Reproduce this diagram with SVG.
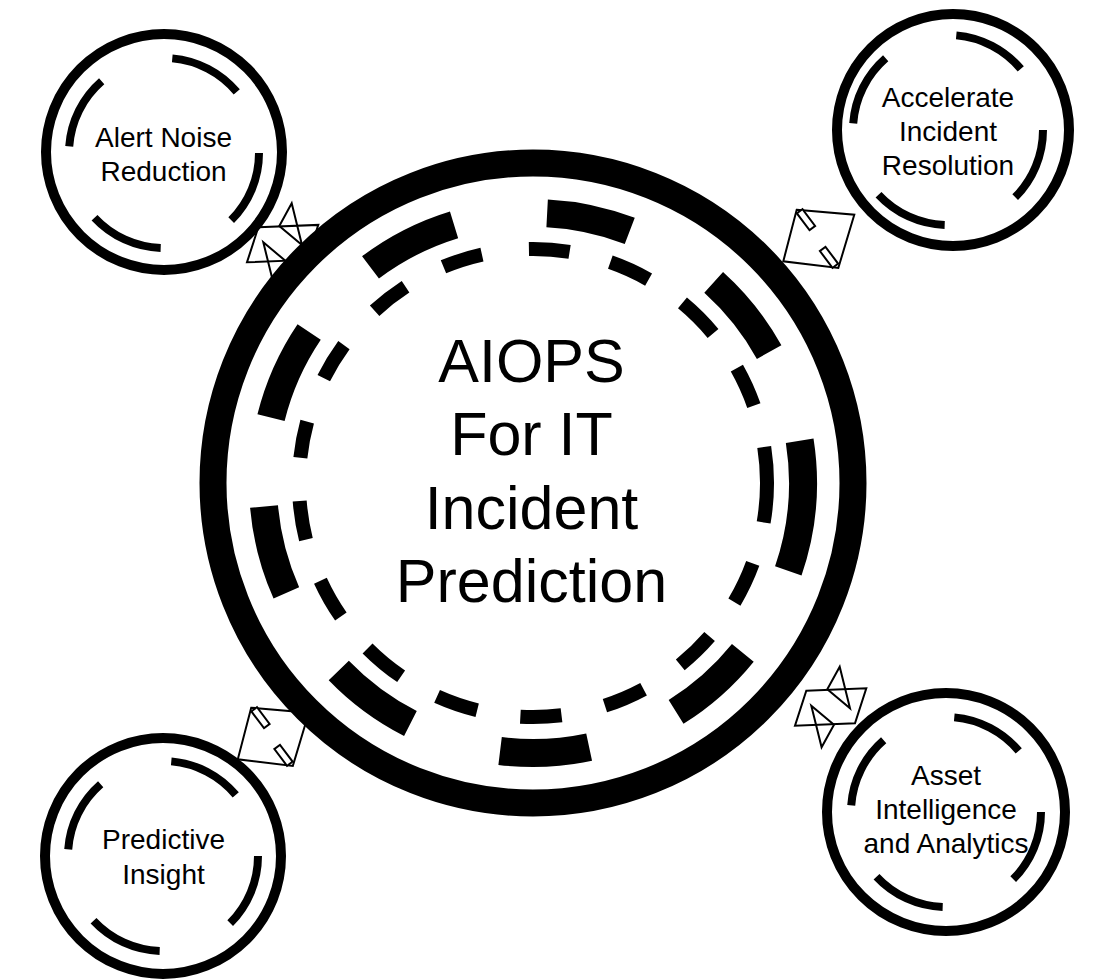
<svg xmlns="http://www.w3.org/2000/svg" xmlns:xlink="http://www.w3.org/1999/xlink" width="1102" height="980" viewBox="0 0 1102 980">
  <style>
    .ring { fill: none; stroke: #000; stroke-width: 10; }
    .arc { fill: none; stroke: #000; stroke-width: 8; }
    .hub-ring { fill: none; stroke: #000; stroke-width: 27; }
    .dash-thick { fill: none; stroke: #000; stroke-width: 28; }
    .dash-thin { fill: none; stroke: #000; stroke-width: 14; }
    .lbl { font-family: "Liberation Sans", Arial, sans-serif; font-size: 28px; fill: #000; text-anchor: middle; }
    .hub-lbl { font-family: "Liberation Sans", Arial, sans-serif; font-size: 61px; fill: #000; text-anchor: middle; }
    .link { fill: none; stroke: #000; stroke-width: 2; stroke-linejoin: miter; }
    .tab { fill: #fff; stroke: #000; stroke-width: 2; }
  </style>
  <defs>
    <!-- four arcs inside each satellite circle, centred on 0,0 -->
    <g id="innerArcs">
      <path class="arc" d="M8.28,-94.64 A95,95 0 0 1 72.77,-61.07"/>
      <path class="arc" d="M95,0 A95,95 0 0 1 67.18,67.18"/>
      <path class="arc" d="M-3.32,94.94 A95,95 0 0 1 -69.48,64.79"/>
      <path class="arc" d="M-94.77,-6.63 A95,95 0 0 1 -62.33,-71.70"/>
    </g>
    <!-- link glyph: box with two tabs on its diagonal -->
    <g id="linkBox">
      <polygon class="link" points="-21.3,-28.3 36.3,-23.3 20.3,30 -34.7,23.3"/>
      <rect class="tab" x="-10.5" y="-3.5" width="21" height="7" transform="translate(-12,-18.3) rotate(53)"/>
      <rect class="tab" x="-10.5" y="-3.5" width="21" height="7" transform="translate(11,19.3) rotate(53)"/>
    </g>
    <!-- link glyph: slanted box with a triangle at each end -->
    <g id="linkStar">
      <polygon class="link" points="-24.7,-16.3 35.3,-18.7 24,16.3 -36,18.7"/>
      <polygon class="link" points="8.7,-40.3 -3.7,-17.7 19,1.3"/>
      <polygon class="link" points="-9.4,40.3 3,17.7 -19.7,-1.3"/>
    </g>
  </defs>

  <rect width="1102" height="980" fill="#fff"/>

  <g id="connectors">
    <use xlink:href="#linkStar" transform="translate(283,243.6)"/>
    <use xlink:href="#linkBox" transform="translate(818,238)"/>
    <use xlink:href="#linkBox" transform="translate(272.5,736)"/>
    <use xlink:href="#linkStar" transform="translate(831,707)"/>
  </g>

  <g id="hub">
    <circle class="hub-ring" cx="533" cy="483" r="320"/>
    <g id="hub-outer-dashes">
      <path class="dash-thick" d="M547.13,213.37 A270,270 0 0 1 629.76,230.93"/>
      <path class="dash-thick" d="M370.51,267.37 A270,270 0 0 1 454.06,224.80"/>
      <path class="dash-thick" d="M271.02,417.68 A270,270 0 0 1 309.16,332.02"/>
      <path class="dash-thick" d="M286.34,592.82 A270,270 0 0 1 264.03,506.53"/>
      <path class="dash-thick" d="M410.42,723.57 A270,270 0 0 1 338.78,670.56"/>
      <path class="dash-thick" d="M589.14,747.10 A270,270 0 0 1 500.10,750.99"/>
      <path class="dash-thick" d="M742.83,652.92 A270,270 0 0 1 676.08,711.97"/>
      <path class="dash-thick" d="M799.68,440.76 A270,270 0 0 1 788.29,570.90"/>
      <path class="dash-thick" d="M713.67,282.35 A270,270 0 0 1 769.15,352.10"/>
    </g>
    <g id="hub-inner-dashes">
      <path class="dash-thin" d="M528.92,249.04 A234,234 0 0 1 569.60,251.88"/>
      <path class="dash-thin" d="M443.45,266.81 A234,234 0 0 1 481.96,254.63"/>
      <path class="dash-thin" d="M374.61,310.75 A234,234 0 0 1 405.55,286.75"/>
      <path class="dash-thin" d="M323.77,378.22 A234,234 0 0 1 343.93,345.13"/>
      <path class="dash-thin" d="M300.37,457.73 A234,234 0 0 1 307.18,421.65"/>
      <path class="dash-thin" d="M305.95,539.61 A234,234 0 0 1 299.69,500.95"/>
      <path class="dash-thin" d="M340.85,616.55 A234,234 0 0 1 320.41,580.78"/>
      <path class="dash-thin" d="M401.13,676.31 A234,234 0 0 1 367.54,648.46"/>
      <path class="dash-thin" d="M477.18,710.24 A234,234 0 0 1 437.08,696.44"/>
      <path class="dash-thin" d="M561.52,715.26 A234,234 0 0 1 520.35,716.66"/>
      <path class="dash-thin" d="M643.58,689.22 A234,234 0 0 1 604.92,705.67"/>
      <path class="dash-thin" d="M709.60,636.52 A234,234 0 0 1 680.26,664.85"/>
      <path class="dash-thin" d="M752.75,563.42 A234,234 0 0 1 734.41,602.12"/>
      <path class="dash-thin" d="M764.22,447.00 A234,234 0 0 1 763.65,522.43"/>
      <path class="dash-thin" d="M736.86,368.13 A234,234 0 0 1 753.85,405.66"/>
      <path class="dash-thin" d="M682.47,302.96 A234,234 0 0 1 713.04,333.53"/>
      <path class="dash-thin" d="M610.34,262.15 A234,234 0 0 1 648.58,279.54"/>
    </g>
    <text class="hub-lbl" x="531.5" y="382">AIOPS</text>
    <text class="hub-lbl" x="531.5" y="455">For IT</text>
    <text class="hub-lbl" x="531.5" y="529">Incident</text>
    <text class="hub-lbl" x="531.5" y="602">Prediction</text>
  </g>

  <g id="alert-noise-reduction">
    <circle class="ring" cx="164" cy="152" r="118"/>
    <use xlink:href="#innerArcs" transform="translate(164,153)"/>
    <text class="lbl" x="163.5" y="147">Alert Noise</text>
    <text class="lbl" x="163.5" y="181">Reduction</text>
  </g>

  <g id="accelerate-incident-resolution">
    <circle class="ring" cx="953" cy="130" r="116"/>
    <use xlink:href="#innerArcs" transform="translate(948,130)"/>
    <text class="lbl" x="948" y="107">Accelerate</text>
    <text class="lbl" x="948" y="141">Incident</text>
    <text class="lbl" x="948" y="175">Resolution</text>
  </g>

  <g id="predictive-insight">
    <circle class="ring" cx="163" cy="856" r="118"/>
    <use xlink:href="#innerArcs" transform="translate(163,856)"/>
    <text class="lbl" x="163.5" y="849">Predictive</text>
    <text class="lbl" x="163.5" y="884">Insight</text>
  </g>

  <g id="asset-intelligence-analytics">
    <circle class="ring" cx="946" cy="812" r="119"/>
    <use xlink:href="#innerArcs" transform="translate(946,812)"/>
    <text class="lbl" x="946" y="785">Asset</text>
    <text class="lbl" x="946" y="819">Intelligence</text>
    <text class="lbl" x="946" y="853">and Analytics</text>
  </g>
</svg>
